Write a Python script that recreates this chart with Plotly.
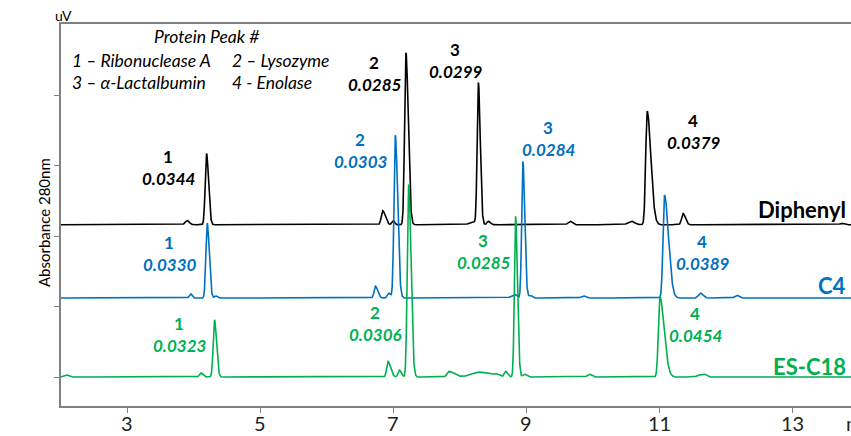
import numpy as np
import plotly.graph_objects as go

# Retention-time axis (min)
t = np.arange(2.0, 13.9, 0.002)

# Detector baselines for each column (stacked offsets, axis units)
baseline_diphenyl = 2.16
baseline_c4 = 1.12
baseline_esc18 = 0.0

# Peak tables: retention time (min), height, left width, right width
diphenyl_rt = [3.90, 4.19, 6.84, 7.00, 7.19, 8.19, 8.28, 8.43, 9.66, 10.58, 10.82, 11.36, 13.75]
diphenyl_h = [0.06, 1.01, 0.20, 0.06, 2.44, 0.04, 2.01, 0.05, 0.05, 0.05, 1.61, 0.16, 0.02]
diphenyl_wl = [0.03, 0.020, 0.022, 0.02, 0.020, 0.05, 0.018, 0.02, 0.03, 0.05, 0.022, 0.022, 0.03]
diphenyl_wr = [0.03, 0.030, 0.040, 0.02, 0.035, 0.05, 0.028, 0.03, 0.03, 0.05, 0.055, 0.035, 0.03]

c4_rt = [3.95, 4.20, 4.33, 6.73, 6.93, 7.03, 8.83, 8.95, 9.06, 9.86, 11.08, 11.62, 12.17]
c4_h = [0.06, 1.06, 0.03, 0.17, 0.07, 2.31, 0.05, 1.94, 0.04, 0.03, 1.46, 0.07, 0.04]
c4_wl = [0.02, 0.020, 0.02, 0.020, 0.02, 0.020, 0.05, 0.018, 0.02, 0.03, 0.022, 0.03, 0.03]
c4_wr = [0.02, 0.030, 0.02, 0.035, 0.03, 0.035, 0.03, 0.028, 0.03, 0.03, 0.060, 0.04, 0.03]

esc18_rt = [2.08, 4.10, 4.31, 6.92, 7.09, 7.23, 7.84, 8.30, 8.55, 8.69, 8.84, 8.97, 9.95, 11.01, 11.60, 11.68]
esc18_h = [0.03, 0.06, 0.81, 0.22, 0.10, 2.73, 0.08, 0.07, 0.03, 0.08, 2.28, 0.04, 0.04, 1.14, 0.03, 0.04]
esc18_wl = [0.03, 0.02, 0.020, 0.020, 0.02, 0.020, 0.03, 0.12, 0.04, 0.02, 0.018, 0.02, 0.03, 0.022, 0.03, 0.03]
esc18_wr = [0.03, 0.03, 0.030, 0.040, 0.03, 0.035, 0.08, 0.15, 0.04, 0.03, 0.028, 0.03, 0.03, 0.065, 0.03, 0.03]

# Peak annotations: peak number and value printed under it
peak_numbers = ["1", "2", "3", "4"]
diphenyl_values = ["0.0344", "0.0285", "0.0299", "0.0379"]
c4_values = ["0.0330", "0.0303", "0.0284", "0.0389"]
esc18_values = ["0.0323", "0.0306", "0.0285", "0.0454"]

series_names = ["Diphenyl", "C4", "ES-C18"]
colors = ["#000000", "#0070C0", "#00B050"]

x_ticks = [3, 5, 7, 9, 11, 13]
x_tick_labels = ["3", "5", "7", "9", "11", "13"]

# Label anchor points (retention time, level) for each peak label
diphenyl_label_pos = [(3.617, 3.121), (6.714, 4.468), (7.932, 4.652), (11.511, 3.645)]
c4_label_pos = [(3.632, 1.915), (6.504, 3.362), (9.331, 3.546), (11.647, 1.929)]
esc18_label_pos = [(3.782, 0.766), (6.729, 0.922), (8.353, 1.943), (11.541, 0.908)]
name_levels = [2.369, 1.305, 0.156]


def trace_from_peaks(base, rts, hs, wls, wrs):
    y = np.full_like(t, base)
    for rt, h, wl, wr in zip(rts, hs, wls, wrs):
        w = np.where(t < rt, wl, wr)
        y += h * np.exp(-0.5 * ((t - rt) / w) ** 2)
    return y


signals = [
    trace_from_peaks(baseline_diphenyl, diphenyl_rt, diphenyl_h, diphenyl_wl, diphenyl_wr),
    trace_from_peaks(baseline_c4, c4_rt, c4_h, c4_wl, c4_wr),
    trace_from_peaks(baseline_esc18, esc18_rt, esc18_h, esc18_wl, esc18_wr),
]

FONT = "Lato"

fig = go.Figure()
for name, sig, col in zip(series_names, signals, colors):
    fig.add_trace(go.Scatter(x=t, y=sig, mode="lines", name=name,
                             line=dict(color=col, width=1.6), showlegend=False,
                             hoverinfo="skip"))

annotations = []
for values, positions, col in zip([diphenyl_values, c4_values, esc18_values],
                                  [diphenyl_label_pos, c4_label_pos, esc18_label_pos],
                                  colors):
    for num, val, (px, py) in zip(peak_numbers, values, positions):
        annotations.append(dict(x=px, y=py, xref="x", yref="y", text=f"<b>{num}</b>",
                                showarrow=False, font=dict(family=FONT, size=17, color=col)))
        annotations.append(dict(x=px, y=py, xref="x", yref="y", yshift=-22,
                                text=f"<b><i>{val}</i></b>",
                                showarrow=False, font=dict(family=FONT, size=17, color=col)))

for name, lvl, col in zip(series_names, name_levels, colors):
    annotations.append(dict(x=1, y=lvl, xref="paper", yref="y", xanchor="right", xshift=-3,
                            text=f"<b>{name}</b>", showarrow=False,
                            font=dict(family=FONT, size=22, color=col)))

# Key to the peak numbers
key_font = dict(family=FONT, size=17.5, color="#000000")
annotations += [
    dict(x=4.203, y=4.823, xref="x", yref="y", text="<i>Protein Peak #</i>",
         showarrow=False, font=key_font),
    dict(x=2.133, y=4.496, xref="x", yref="y", xanchor="left",
         text="<i>1 – Ribonuclease A</i>", showarrow=False, font=key_font),
    dict(x=4.549, y=4.496, xref="x", yref="y", xanchor="left",
         text="<i>2 – Lysozyme</i>", showarrow=False, font=key_font),
    dict(x=2.133, y=4.184, xref="x", yref="y", xanchor="left",
         text="<i>3 – α-Lactalbumin</i>", showarrow=False, font=key_font),
    dict(x=4.549, y=4.184, xref="x", yref="y", xanchor="left",
         text="<i>4 - Enolase</i>", showarrow=False, font=key_font),
]

# Time-axis tick labels, set close under the axis line
tick_font = dict(family=FONT, size=20, color="#222222")
for tv, tl in zip(x_ticks, x_tick_labels):
    annotations.append(dict(x=tv, y=0, xref="x", yref="paper", yanchor="middle",
                            yshift=-17, text=tl, showarrow=False, font=tick_font))

# Axis unit captions
annotations += [
    dict(x=0, y=1, xref="paper", yref="paper", xanchor="center", yanchor="bottom",
         xshift=2, yshift=-2, text="uV", showarrow=False,
         font=dict(family=FONT, size=14, color="#000000")),
    dict(x=0, y=0.479, xref="paper", yref="paper", xshift=-28, textangle=-90,
         text="Absorbance 280nm", showarrow=False,
         font=dict(family=FONT, size=15, color="#000000")),
    dict(x=1, y=0, xref="paper", yref="paper", xanchor="left", yanchor="middle",
         xshift=-7, yshift=-17, text="min", showarrow=False, font=tick_font),
]

fig.update_layout(
    width=851, height=436,
    margin=dict(l=61, r=0, t=24, b=30),
    paper_bgcolor="white", plot_bgcolor="white",
    annotations=annotations,
    xaxis=dict(range=[2.0, 13.887], tickvals=x_ticks, ticks="outside", ticklen=5,
               tickcolor="#808080", tickwidth=1, showline=True, linecolor="#808080",
               linewidth=2, mirror=True, showgrid=False, zeroline=False,
               automargin=False, showticklabels=False),
    yaxis=dict(range=[-0.411, 5.007], tickvals=[0, 1, 2, 3, 4], ticks="outside",
               ticklen=5, tickcolor="#808080", tickwidth=1, showticklabels=False,
               showline=True, linecolor="#808080", linewidth=2, showgrid=False,
               zeroline=False, automargin=False),
)

fig.write_html("out.html")
